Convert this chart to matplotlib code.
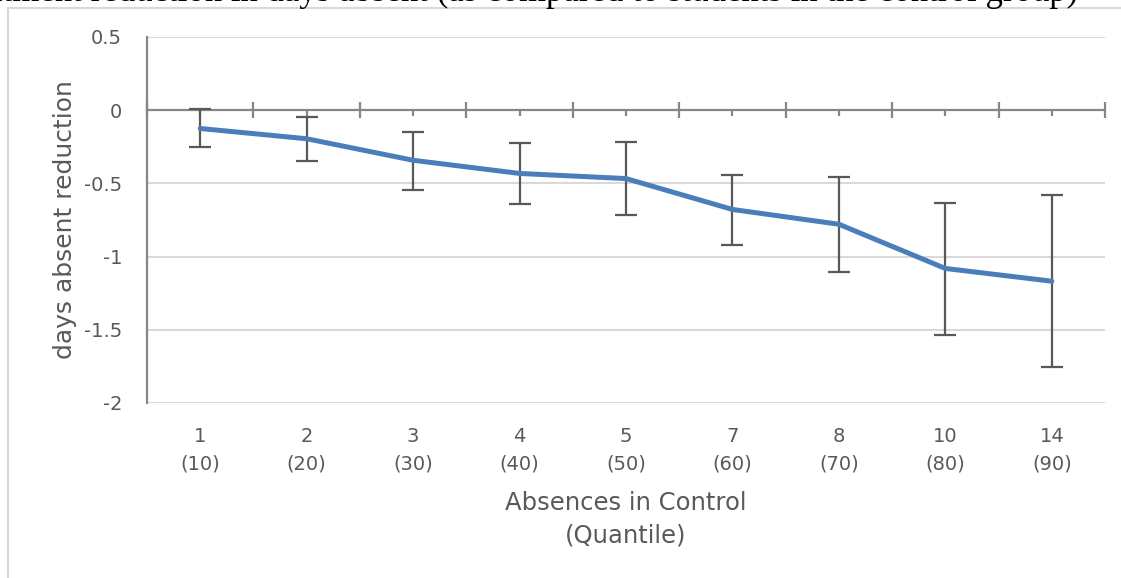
import matplotlib
matplotlib.use("Agg")
import matplotlib.pyplot as plt
from matplotlib.lines import Line2D
import numpy as np

# ---- data ----
absences = ["1", "2", "3", "4", "5", "7", "8", "10", "14"]
quantiles = ["(10)", "(20)", "(30)", "(40)", "(50)", "(60)", "(70)", "(80)", "(90)"]
reduction = [-0.125, -0.195, -0.342, -0.432, -0.467, -0.678, -0.779, -1.081, -1.168]
ci_upper = [0.007, -0.046, -0.146, -0.225, -0.216, -0.440, -0.455, -0.631, -0.581]
ci_lower = [-0.250, -0.344, -0.544, -0.640, -0.717, -0.922, -1.107, -1.535, -1.756]
title = "Treatment reduction in days absent (as compared to students in the control group)"

FONT = ["DejaVu Sans"]
TXT = "#595959"
plt.rcParams["font.family"] = FONT

W, H = 1121, 578
fig = plt.figure(figsize=(W / 100, H / 100), dpi=100)
fig.patch.set_facecolor("white")

# chart border (partially visible)
fig.add_artist(Line2D([8 / W, 8 / W], [0, 1 - 8 / H], color="#D9D9D9", lw=1.5))
fig.add_artist(Line2D([8 / W, 1], [1 - 8 / H, 1 - 8 / H], color="#D9D9D9", lw=1.5))

# cut-off title at the top
fig.text(1078 / W, 1 - 0.8 / H, title, ha="right", va="baseline",
         fontsize=25, family=["Liberation Serif", "DejaVu Serif"], color="black")

ax = fig.add_axes([147 / W, 1 - 403 / H, (1105 - 147) / W, (403 - 37) / H])
x = np.arange(1, len(absences) + 1)
r = np.array(reduction)
yerr = np.vstack([r - np.array(ci_lower), np.array(ci_upper) - r])

ax.errorbar(x, r, yerr=yerr, fmt="none", ecolor="#595959", elinewidth=1.6,
            capsize=8, capthick=1.6, zorder=3)
ax.plot(x, r, color="#4A7EBB", lw=3.6, solid_capstyle="round",
        solid_joinstyle="round", zorder=4)

ax.set_xlim(0.5, len(absences) + 0.5)
ax.set_ylim(-2, 0.5)
ax.set_yticks([0.5, 0, -0.5, -1, -1.5, -2])
ax.set_yticklabels(["0.5", "0", "-0.5", "-1", "-1.5", "-2"])
ax.tick_params(axis="y", length=0, pad=18, labelsize=14, labelcolor=TXT)

for yv in [0.5, -0.5, -1, -1.5, -2]:
    ax.axhline(yv, color="#D9D9D9", lw=1.5, zorder=0)

# category axis at y = 0
ax.spines["bottom"].set_position(("data", 0))
ax.spines["bottom"].set_color("#868686")
ax.spines["bottom"].set_linewidth(1.6)
ax.spines["bottom"].set_zorder(2)
ax.spines["left"].set_color("#868686")
ax.spines["left"].set_linewidth(1.6)
ax.spines["top"].set_visible(False)
ax.spines["right"].set_visible(False)
ax.set_xticks(np.arange(0.5, len(absences) + 1, 1.0))
ax.set_xticks(x, minor=True)
ax.tick_params(axis="x", which="major", direction="inout", length=11,
               width=1.6, color="#868686", labelbottom=False)
ax.tick_params(axis="x", which="minor", direction="out", length=4.5,
               width=1.6, color="#868686", labelbottom=False)

sec = ax.secondary_xaxis("bottom")
sec.set_xticks(x)
sec.set_xticklabels([f"{a}\n{q}" for a, q in zip(absences, quantiles)],
                    linespacing=1.6)
sec.tick_params(length=0, pad=17, labelsize=14, labelcolor=TXT)
sec.spines["bottom"].set_visible(False)

ax.set_ylabel("days absent reduction", fontsize=18, color=TXT)
ax.yaxis.set_label_coords((77 - 147) / 958, 0.5)
ax.set_xlabel("Absences in Control\n(Quantile)", fontsize=17.5, color=TXT,
              linespacing=1.45)
ax.xaxis.set_label_coords(0.5, -(491 - 403) / 366)
ax.xaxis.label.set_va("top")

fig.savefig("out.png", dpi=100, facecolor="white")
